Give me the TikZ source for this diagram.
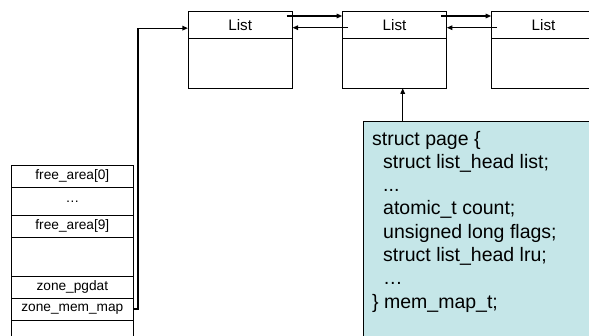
\documentclass[tikz,border=0pt]{standalone}
\usepackage{fontspec}
\setmainfont{Liberation Sans}
\usetikzlibrary{arrows.meta}
\definecolor{pagefill}{RGB}{197,230,232}
\begin{document}
\begin{tikzpicture}[x=1pt,y=-1pt,
  frame/.style={draw=black, line width=0.8pt, inner sep=0pt, outer sep=0pt},
  cell/.style={frame, minimum width=121.3pt, font=\fontsize{13.7}{16}\selectfont},
  lhead/.style={frame, minimum width=104.6pt, minimum height=27.3pt, font=\fontsize{15.2}{18}\selectfont},
  lbody/.style={frame, minimum width=104.6pt, minimum height=50pt},
  arr/.style={draw=black, line width=1.2pt, -{Triangle[length=5.5pt,width=4.5pt]}}
]
\useasboundingbox (0,0) rectangle (589,336);
\clip (0,0) rectangle (589,336);
\fill[white] (0,0) rectangle (589,336);

% zone table
\node[cell, minimum height=22.7pt] (r0) at (72.35,176.35) {free\_area[0]};
\node[cell, minimum height=28pt]   (r1) at (72.35,201.7) {…};
\node[cell, minimum height=21.3pt] (r2) at (72.35,226.35) {free\_area[9]};
\node[cell, minimum height=39pt]   (r3) at (72.35,256.5) {};
\node[cell, minimum height=22pt]   (r4) at (72.35,287) {zone\_pgdat};
\node[cell, minimum height=22pt]   (r5) at (72.35,309) {zone\_mem\_map};
\node[cell, minimum height=30pt]   (r6) at (72.35,335) {};

% list boxes
\node[lhead] (l1h) at (240.2,24.65) {List};
\node[lbody] (l1b) at (240.2,63.3) {};
\node[lhead] (l2h) at (394.5,24.65) {List};
\node[lbody] (l2b) at (394.5,63.3) {};
\node[lhead] (l3h) at (543.5,24.65) {List};
\node[lbody] (l3b) at (543.5,63.3) {};

% struct page box
\node[frame, fill=pagefill, anchor=north west, minimum width=240pt, minimum height=230pt] (sp) at (363.5,121) {};
\node[anchor=north west, inner sep=0pt, align=left,
      font=\fontsize{19.5}{23.3}\selectfont] (spt) at (372,130.7)
  {struct page \{\\
   \hspace*{11pt}struct list\_head list;\\
   \hspace*{11pt}...\\
   \hspace*{11pt}atomic\_t count;\\
   \hspace*{11pt}unsigned long flags;\\
   \hspace*{11pt}struct list\_head lru;\\
   \hspace*{11pt}…\\
   \} mem\_map\_t;};

% connectors
\draw[arr] (r5.east) -- ++(5pt,0) |- ([yshift=-3.5pt]l1h.west);
\draw[arr] ([shift={(-6pt,-5pt)}]l1h.north east) -- ([yshift=-5pt]l2h.north west);
\draw[arr] ([shift={(6pt,-16.7pt)}]l2h.north west) -- ([yshift=-16.7pt]l1h.north east);
\draw[arr] ([shift={(-6pt,-5pt)}]l2h.north east) -- ([yshift=-5pt]l3h.north west);
\draw[arr] ([shift={(6pt,-16.7pt)}]l3h.north west) -- ([yshift=-16.7pt]l2h.north east);
\draw[arr] ([xshift=39.2pt]sp.north west) -- ([xshift=39.2pt]sp.north west |- l2b.south);
\end{tikzpicture}
\end{document}
